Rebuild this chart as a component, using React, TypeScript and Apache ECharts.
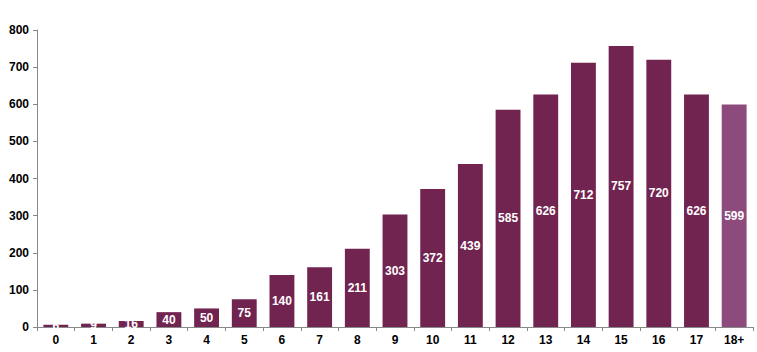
import React, { useEffect, useRef } from "react";
import * as echarts from "echarts";

const categories = ["0", "1", "2", "3", "4", "5", "6", "7", "8", "9", "10", "11", "12", "13", "14", "15", "16", "17", "18+"];
const values = [6, 9, 16, 40, 50, 75, 140, 161, 211, 303, 372, 439, 585, 626, 712, 757, 720, 626, 599];
const yTicks = [0, 100, 200, 300, 400, 500, 600, 700, 800];

export default function App() {
  const ref = useRef<HTMLDivElement>(null);
  useEffect(() => {
    if (!ref.current) return;
    const chart = echarts.init(ref.current, null, { renderer: "svg" });
    chart.setOption({
      animation: false,
      grid: { left: 37, right: 4, top: 30, bottom: 25, containLabel: false },
      xAxis: {
        type: "category",
        data: categories,
        axisLine: { lineStyle: { color: "#888", width: 1 } },
        axisTick: { show: true, alignWithLabel: false, length: 4, lineStyle: { color: "#888" } },
        axisLabel: { color: "#000", fontWeight: "bold", fontSize: 12, fontFamily: "Liberation Sans, Arial", margin: 7 },
      },
      yAxis: {
        type: "value",
        min: yTicks[0],
        max: yTicks[yTicks.length - 1],
        interval: 100,
        splitLine: { show: false },
        axisLine: { show: true, lineStyle: { color: "#888", width: 1 } },
        axisTick: { show: true, length: 4, lineStyle: { color: "#888" } },
        axisLabel: { color: "#000", fontWeight: "bold", fontSize: 12, fontFamily: "Liberation Sans, Arial", margin: 8 },
      },
      series: [
        {
          type: "bar",
          data: values.map((v, i) => ({
            value: v,
            itemStyle: { color: i === values.length - 1 ? "#8d4a7d" : "#722450" },
          })),
          barWidth: "66%",
          label: {
            show: true,
            position: "inside",
            color: "#fff",
            fontWeight: "bold",
            fontSize: 12,
            fontFamily: "Liberation Sans, Arial",
          },
        },
      ],
    });
    return () => chart.dispose();
  }, []);
  return <div ref={ref} style={{ position: "absolute", left: 0, top: 0, width: 757, height: 352 }} />;
}
